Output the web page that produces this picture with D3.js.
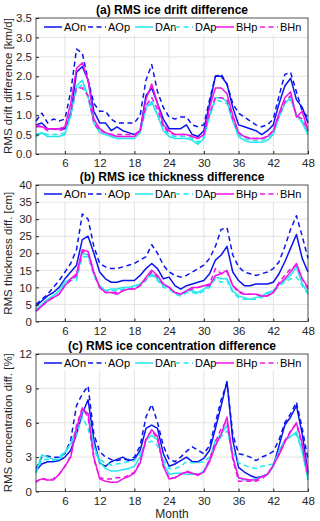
<!DOCTYPE html>
<html>
<head>
<meta charset="utf-8">
<script src="https://cdn.jsdelivr.net/npm/d3@7"></script>
<style>
  body { margin: 0; background: #fff; }
  svg { display: block; font-family: "Liberation Sans", Arial, sans-serif; }
</style>
</head>
<body>
<div id="chart"></div>
<script>
const width = 320;
const height = 521;

const months = d3.range(1, 49);
const seriesNames = ["AOn", "AOp", "DAn", "DAp", "BHp", "BHn"];
const xTicks = [6, 12, 18, 24, 30, 36, 42, 48];

// (a) RMS ice drift difference [km/d]
const driftAOn = [0.75,0.8,0.65,0.65,0.65,0.65,1.0,2.1,2.25,1.9,1.1,0.8,0.8,0.6,0.7,0.6,0.55,0.5,0.6,1.5,1.7,1.3,0.9,0.65,0.65,0.65,0.75,0.5,0.45,0.6,1.3,2.0,2.0,1.8,1.2,0.75,0.7,0.65,0.6,0.5,0.6,0.75,1.3,1.75,1.95,1.4,1.2,0.8];
const driftAOp = [0.85,1.05,0.8,0.9,0.85,0.9,1.6,2.7,2.6,1.9,1.3,1.1,1.1,0.9,0.8,0.8,0.8,0.8,1.0,1.9,2.3,1.6,1.2,0.95,0.9,0.95,0.95,0.75,0.7,0.75,1.4,2.0,2.05,1.8,1.3,1.05,0.95,0.85,0.75,0.7,0.75,0.9,1.5,2.05,2.1,1.6,1.1,0.95];
const driftDAn = [0.45,0.55,0.45,0.45,0.45,0.5,1.0,1.75,1.9,1.5,0.8,0.55,0.5,0.45,0.4,0.4,0.4,0.4,0.55,1.2,1.35,1.0,0.6,0.45,0.4,0.4,0.4,0.35,0.25,0.4,1.0,1.45,1.45,1.35,0.85,0.45,0.35,0.3,0.3,0.3,0.35,0.5,0.95,1.3,1.45,1.0,0.8,0.5];
const driftDAp = [0.5,0.55,0.5,0.5,0.5,0.55,1.0,1.65,1.8,1.45,0.8,0.6,0.55,0.45,0.45,0.45,0.45,0.45,0.6,1.15,1.3,1.0,0.65,0.5,0.45,0.45,0.45,0.4,0.3,0.45,0.95,1.4,1.35,1.3,0.85,0.5,0.4,0.35,0.35,0.35,0.4,0.55,0.95,1.3,1.4,1.0,0.85,0.55];
const driftBHp = [0.75,0.7,0.65,0.65,0.65,0.7,1.3,2.2,2.35,1.9,0.9,0.65,0.55,0.5,0.45,0.45,0.45,0.45,0.6,1.4,1.8,1.3,0.75,0.6,0.5,0.5,0.5,0.45,0.4,0.5,1.2,1.7,1.7,1.55,1.0,0.55,0.45,0.4,0.4,0.4,0.45,0.6,1.05,1.45,1.6,0.95,1.1,0.6];
const driftBHn = [0.7,0.7,0.6,0.65,0.6,0.65,1.1,1.7,1.7,1.5,0.8,0.6,0.55,0.5,0.5,0.5,0.5,0.5,0.6,1.25,1.45,1.15,0.7,0.55,0.5,0.5,0.5,0.45,0.4,0.5,1.05,1.45,1.45,1.4,0.9,0.55,0.45,0.4,0.4,0.4,0.45,0.6,1.0,1.35,1.5,1.0,0.9,0.6];

// (b) RMS ice thickness difference [cm]
const thickAOn = [4.5,6,7.5,8.5,10,12.5,14.5,16.5,24,25,20,14.5,12.5,11.5,11.5,12,12,12,13.5,15.5,17,15.5,12.5,13,10.5,9.5,10.5,11,11.5,12,14,18,19.5,22,14.5,12,10.5,10.5,11,11,11,11.5,14,17.5,21.5,25.5,18.5,14.5];
const thickAOp = [5,6.5,8,10,12,14.5,17,21,31.5,30,22,17,16,15.5,15.5,16,16.5,17,18,19,22.5,20,16.5,14.5,13.5,13,13.5,14.5,15.5,16.5,18.5,22,27,27.5,19.5,16,14.5,14,13.5,14,14.5,15.5,17.5,22,27,31,25,18.5];
const thickDAn = [3.5,5,6.5,7.5,9,11.5,12.5,13,20,19.5,14,10.5,9,9.5,9.5,10,10,10.5,11,12.5,14,12.5,10.5,10,8.5,8,9,9,8.5,9.5,10.5,13,12.5,12.5,9,7.5,7,6.5,7,7.5,8.5,9,11,12,13.5,16,11,8.5];
const thickDAp = [3.5,5,6.5,7.5,9,11,12,12,19,19,13.5,10,9,9,9,9.5,9.5,10,10.5,12,13.5,12,10,9.5,8,7.5,8.5,8.5,8,9,10,12.5,11.5,12,8.5,7,6.5,6.5,6.5,7,8,8.5,10.5,11.5,12.5,13,10.5,8];
const thickBHp = [3,4.5,6,7,8,10.5,12.5,14,21,20.5,14.5,10,8.5,8.5,8,9,9.5,9.5,10.5,13,15,13.5,11,10,8.5,8,9,10,10,10.5,10.5,13.5,14,15,10.5,9,8,8,8,7.5,7.5,8.5,11,12.5,14.5,17,12.5,10];
const thickBHn = [3,4.5,6,7,8,10.5,12,13.5,20.5,20,14,10,8.5,8.5,8.5,9,9.5,9.5,10.5,12.5,14.5,13,11,10,8.5,8,9,9.5,10,10.5,11,15.5,14,14.5,10.5,8.5,8,8,8,7.5,7.5,8.5,11.5,13.5,15.5,16.5,12.5,9.5];

// (c) RMS ice concentration difference [%]
const concAOn = [1.8,2.4,2.6,2.6,2.7,3.0,3.6,5.0,6.8,8.0,4.5,2.5,2.2,2.6,2.8,3.0,2.7,2.8,3.6,5.5,5.8,5.5,3.3,2.2,2.4,2.7,3.0,2.6,2.6,2.9,3.6,5.5,7.5,9.6,4.5,2.1,1.7,1.4,1.2,1.3,1.5,2.2,4.0,5.8,6.5,7.5,5.0,1.7];
const concAOp = [2.0,3.0,3.1,3.0,3.0,3.3,4.5,7.5,8.5,9.2,5.0,3.5,3.0,2.8,2.7,2.8,2.8,3.0,4.0,6.5,7.6,6.0,4.0,2.8,2.6,3.0,3.5,3.9,3.6,3.3,4.0,6.0,8.0,9.5,5.0,3.3,3.2,3.0,2.7,3.0,3.2,3.5,4.5,6.0,6.8,7.8,5.5,2.8];
const concDAn = [1.7,3.2,3.0,2.8,2.8,3.4,4.2,5.5,7.0,6.8,4.0,2.6,2.0,1.8,1.8,1.9,2.0,2.2,3.0,4.5,4.9,4.5,2.5,1.5,1.6,1.6,1.5,1.5,1.5,1.8,2.8,4.5,5.0,5.8,3.0,1.2,1.0,1.0,1.1,1.3,1.5,2.2,3.5,4.5,4.8,5.2,3.5,1.0];
const concDAp = [1.6,2.8,2.8,2.7,3.0,3.5,4.0,5.0,6.5,5.5,3.5,2.8,2.5,2.3,2.4,2.5,2.6,2.7,3.3,4.2,4.4,4.0,2.8,2.0,2.0,2.2,2.6,2.5,2.5,2.6,3.0,4.0,4.8,5.3,3.5,2.5,2.3,2.1,2.0,2.2,2.3,2.4,3.5,4.5,4.8,5.0,3.5,1.3];
const concBHp = [0.9,1.1,1.0,1.0,1.5,2.2,3.0,5.5,7.2,6.8,3.0,1.1,0.9,0.8,0.8,1.1,1.3,1.6,2.5,4.5,5.4,4.8,2.2,1.1,1.2,1.5,1.7,1.6,1.4,1.7,2.6,4.0,5.0,6.5,3.0,1.2,1.1,1.0,1.0,1.3,1.5,2.3,3.2,4.3,5.2,6.0,4.2,1.5];
const concBHn = [0.8,1.2,1.0,1.1,1.5,2.2,3.1,5.8,7.3,6.5,2.8,1.2,1.1,1.1,1.2,1.2,1.4,1.7,2.6,4.6,5.3,4.6,2.2,1.2,1.2,1.5,1.8,1.6,1.5,1.7,2.8,4.3,5.5,6.2,2.8,0.9,0.9,0.9,0.9,1.1,1.5,2.3,3.3,4.4,5.3,5.9,4.0,1.4];

const colors = { AOn: "#0a14f0", AOp: "#0a14f0", DAn: "#20e8ec", DAp: "#20e8ec", BHp: "#f014e6", BHn: "#f014e6" };
const dashed = { AOn: false, AOp: true, DAn: false, DAp: true, BHp: false, BHn: true };

const panels = [
  { title: "(a) RMS ice drift difference", ylabel: "RMS drift difference [km/d]",
    top: 18, bottom: 154, yMax: 3.5, yTicks: [0, 0.5, 1, 1.5, 2, 2.5, 3, 3.5],
    data: [driftAOn, driftAOp, driftDAn, driftDAp, driftBHp, driftBHn] },
  { title: "(b) RMS ice thickness difference", ylabel: "RMS thickness diff. [cm]",
    top: 185, bottom: 321.5, yMax: 40, yTicks: [0, 5, 10, 15, 20, 25, 30, 35, 40],
    data: [thickAOn, thickAOp, thickDAn, thickDAp, thickBHp, thickBHn] },
  { title: "(c) RMS ice concentration difference", ylabel: "RMS concentration diff. [%]",
    top: 354, bottom: 491.5, yMax: 12, yTicks: [0, 3, 6, 9, 12],
    data: [concAOn, concAOp, concDAn, concDAp, concBHp, concBHn], xlabel: "Month" }
];

const left = 36, right = 308;
const axisColor = "#262626";
const gridColor = "#e3e3e3";

const svg = d3.select("#chart").append("svg")
  .attr("width", width)
  .attr("height", height);

const x = d3.scaleLinear().domain([1, 48]).range([left, right]);

// legend item positions (token start, text start)
const legendText = [64, 108, 155, 195, 236, 280];

panels.forEach(p => {
  const y = d3.scaleLinear().domain([0, p.yMax]).range([p.bottom, p.top]);
  const g = svg.append("g");

  // grid
  g.append("g").selectAll("line.vg")
    .data(xTicks.slice(0, -1))
    .join("line")
      .attr("x1", d => x(d)).attr("x2", d => x(d))
      .attr("y1", p.top).attr("y2", p.bottom)
      .attr("stroke", gridColor).attr("stroke-width", 1);
  g.append("g").selectAll("line.hg")
    .data(p.yTicks.slice(1, -1))
    .join("line")
      .attr("x1", left).attr("x2", right)
      .attr("y1", d => y(d)).attr("y2", d => y(d))
      .attr("stroke", gridColor).attr("stroke-width", 1);

  // series
  const line = d3.line().x((d, i) => x(months[i])).y(d => y(d));
  seriesNames.forEach((name, k) => {
    g.append("path")
      .datum(p.data[k])
      .attr("fill", "none")
      .attr("stroke", colors[name])
      .attr("stroke-width", 1.5)
      .attr("stroke-linejoin", "round")
      .attr("stroke-dasharray", dashed[name] ? "5,3.5" : null)
      .attr("d", line);
  });

  // axes
  const xAxis = g.append("g")
    .attr("transform", `translate(0,${p.bottom})`)
    .call(d3.axisBottom(x).tickValues(xTicks).tickSizeInner(-3).tickSizeOuter(0).tickPadding(5));
  const yAxis = g.append("g")
    .attr("transform", `translate(${left},0)`)
    .call(d3.axisLeft(y).tickValues(p.yTicks).tickSizeInner(-3).tickSizeOuter(0).tickPadding(4));
  [xAxis, yAxis].forEach(a => {
    a.select(".domain").remove();
    a.selectAll(".tick line").attr("stroke", axisColor);
    a.selectAll(".tick text").attr("fill", axisColor).style("font-size", "11.5px");
  });

  // box
  g.append("rect")
    .attr("x", left).attr("y", p.top)
    .attr("width", right - left).attr("height", p.bottom - p.top)
    .attr("fill", "none").attr("stroke", axisColor).attr("stroke-width", 0.8);

  // legend
  const ly = p.top + 9;
  g.append("rect")
    .attr("x", left + 2).attr("y", p.top + 1.5)
    .attr("width", right - left - 4).attr("height", 15)
    .attr("fill", "#fff");
  seriesNames.forEach((name, k) => {
    const tx = legendText[k];
    g.append("line")
      .attr("x1", tx - 20).attr("x2", tx - 2)
      .attr("y1", ly).attr("y2", ly)
      .attr("stroke", colors[name]).attr("stroke-width", 1.5)
      .attr("stroke-dasharray", dashed[name] ? "5,3.5" : null);
    g.append("text")
      .attr("x", tx).attr("y", ly + 4)
      .attr("fill", "#000")
      .style("font-size", "11px")
      .text(name);
  });

  // title
  g.append("text")
    .attr("x", (left + right) / 2).attr("y", p.top - 4)
    .attr("text-anchor", "middle")
    .style("font-size", "12px").style("font-weight", "bold")
    .text(p.title);

  // y label
  g.append("text")
    .attr("transform", `translate(12,${(p.top + p.bottom) / 2}) rotate(-90)`)
    .attr("text-anchor", "middle")
    .attr("fill", axisColor)
    .style("font-size", "11.5px")
    .text(p.ylabel);

  if (p.xlabel) {
    g.append("text")
      .attr("x", (left + right) / 2).attr("y", p.bottom + 26)
      .attr("text-anchor", "middle")
      .attr("fill", axisColor)
      .style("font-size", "12px")
      .text(p.xlabel);
  }
});
</script>
</body>
</html>
